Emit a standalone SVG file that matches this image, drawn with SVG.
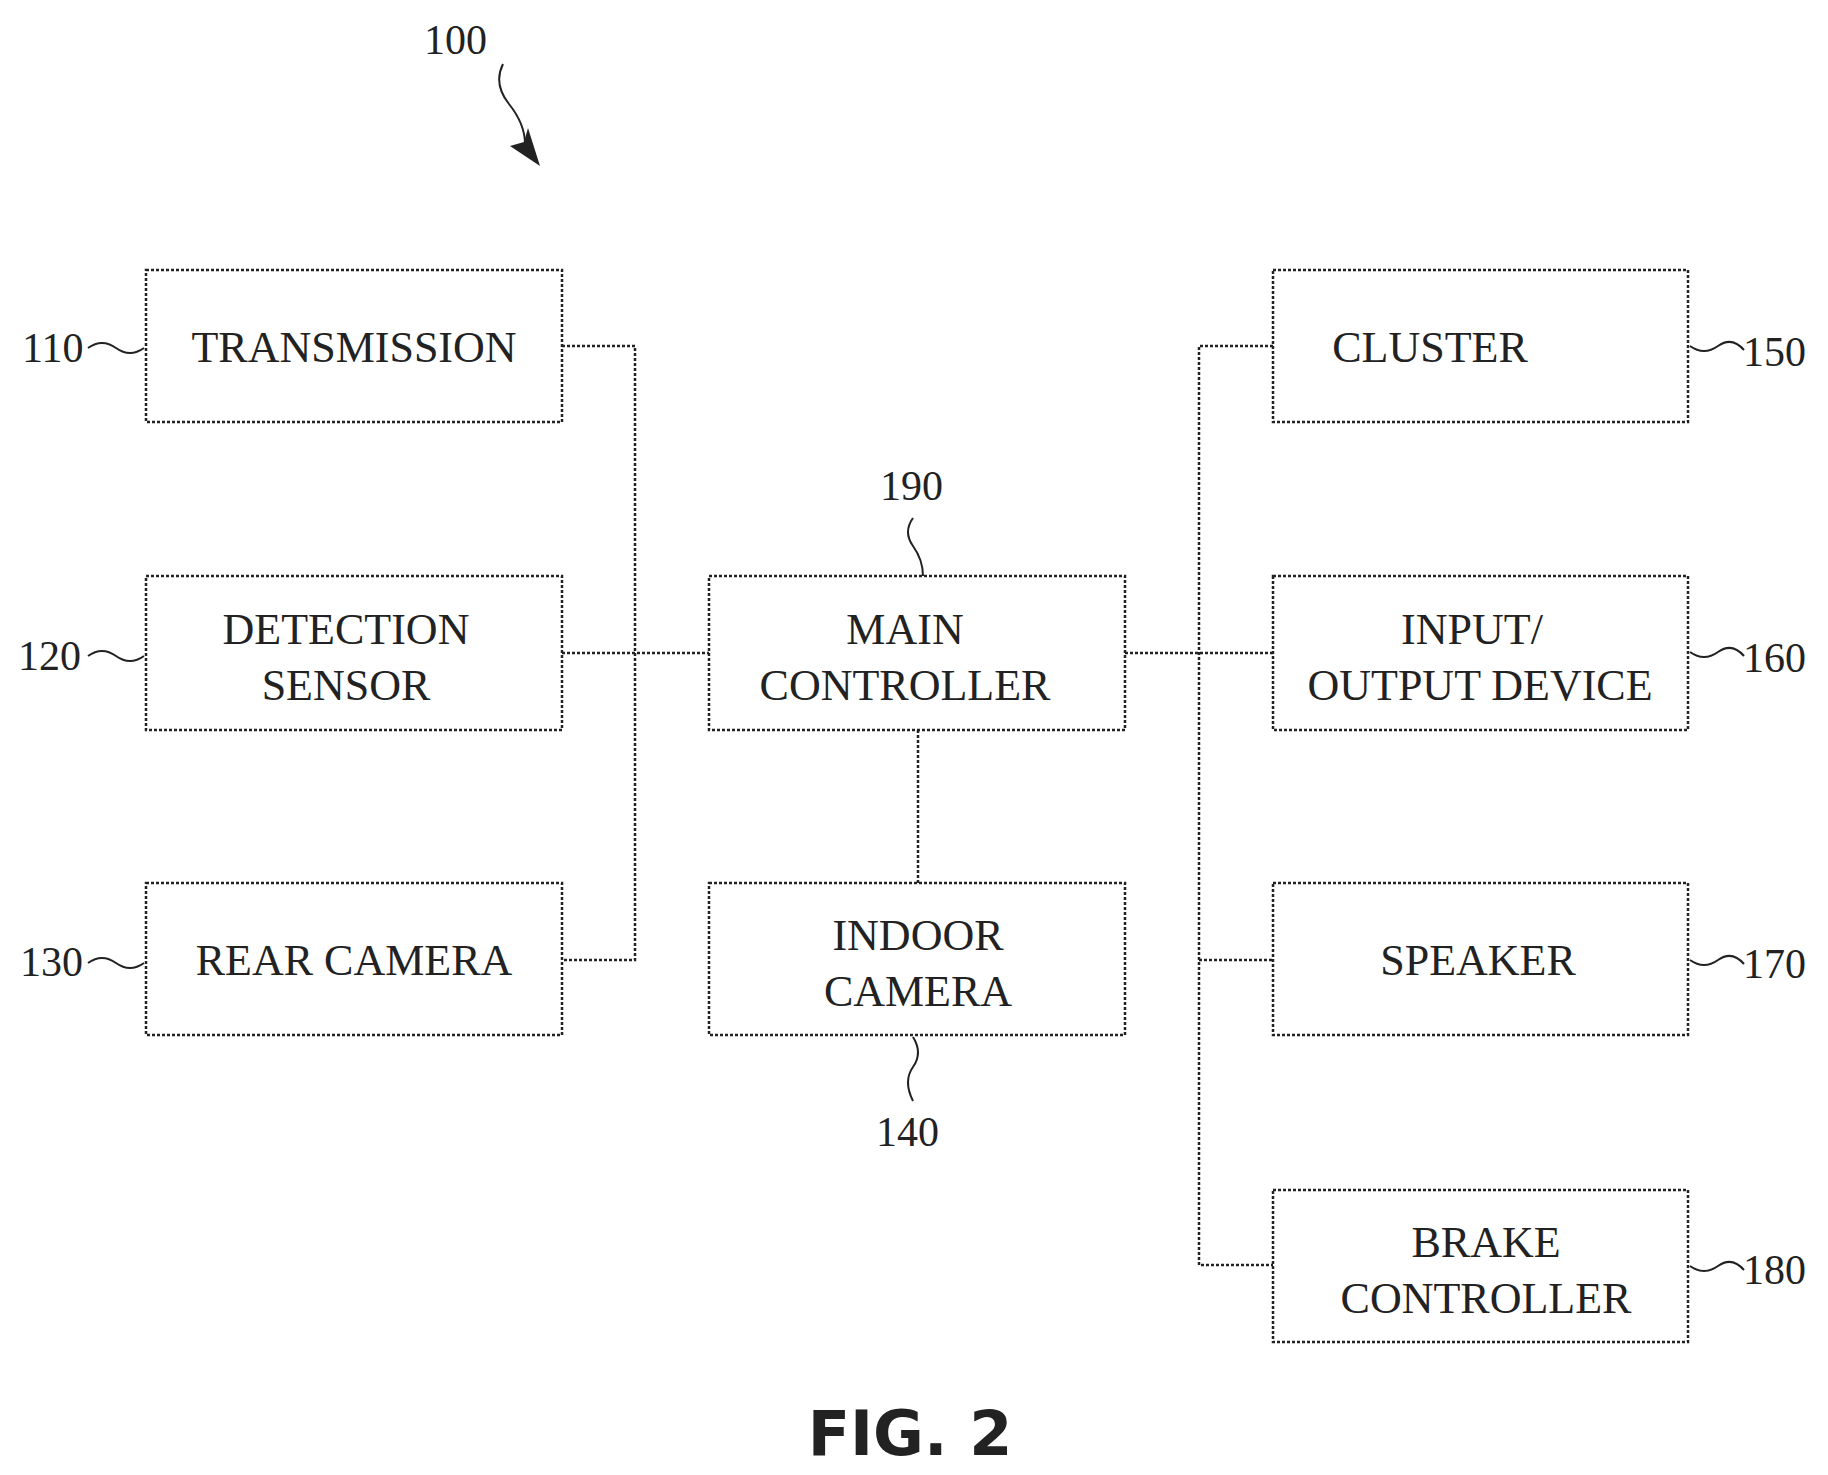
<svg xmlns="http://www.w3.org/2000/svg" width="1828" height="1475" viewBox="0 0 1828 1475">
<style>
.b{fill:none;stroke:#222;stroke-width:2.5;stroke-dasharray:3 2}
.t{font-family:"Liberation Serif",serif;font-size:44px;fill:#222;text-anchor:middle}
.n{font-family:"Liberation Serif",serif;font-size:42px;fill:#222}
.c{fill:none;stroke:#222;stroke-width:2.5;stroke-dasharray:3 2}
.s{fill:none;stroke:#222;stroke-width:2}
</style>
<rect width="1828" height="1475" fill="#fff"/>
<g id="connectors">
<path class="c" d="M562 346H635V960H562M562 653H709M918 730V883M1125 653H1273M1273 346H1199V1265H1273M1199 960H1273"/>
</g>
<g id="n110"><rect class="b" x="146" y="270" width="416" height="152"/><text class="t" x="354" y="362">TRANSMISSION</text></g>
<g id="n120"><rect class="b" x="146" y="576" width="416" height="154"/><text class="t" x="346" y="644">DETECTION</text><text class="t" x="346" y="700">SENSOR</text></g>
<g id="n130"><rect class="b" x="146" y="883" width="416" height="152"/><text class="t" x="354" y="975">REAR  CAMERA</text></g>
<g id="n190"><rect class="b" x="709" y="576" width="416" height="154"/><text class="t" x="905" y="644">MAIN</text><text class="t" x="905" y="700">CONTROLLER</text></g>
<g id="n140"><rect class="b" x="709" y="883" width="416" height="152"/><text class="t" x="918" y="950">INDOOR</text><text class="t" x="918" y="1006">CAMERA</text></g>
<g id="n150"><rect class="b" x="1273" y="270" width="415" height="152"/><text class="t" x="1430" y="362">CLUSTER</text></g>
<g id="n160"><rect class="b" x="1273" y="576" width="415" height="154"/><text class="t" x="1472" y="644">INPUT/</text><text class="t" x="1480" y="700">OUTPUT  DEVICE</text></g>
<g id="n170"><rect class="b" x="1273" y="883" width="415" height="152"/><text class="t" x="1478" y="975">SPEAKER</text></g>
<g id="n180"><rect class="b" x="1273" y="1190" width="415" height="152"/><text class="t" x="1486" y="1257">BRAKE</text><text class="t" x="1486" y="1313">CONTROLLER</text></g>
<g id="labels">
<text class="n" x="22" y="362">110</text><path class="s" d="M88 348q14-10 28 0t28 0"/>
<text class="n" x="18" y="670">120</text><path class="s" d="M88 656q14-10 28 0t28 0"/>
<text class="n" x="20" y="976">130</text><path class="s" d="M88 963q14-10 28 0t28 0"/>
<text class="n" x="1743" y="366">150</text><path class="s" d="M1690 346q14 10 28 0t26 4"/>
<text class="n" x="1743" y="672">160</text><path class="s" d="M1690 652q14 10 28 0t26 4"/>
<text class="n" x="1743" y="978">170</text><path class="s" d="M1690 960q14 10 28 0t26 4"/>
<text class="n" x="1743" y="1284">180</text><path class="s" d="M1690 1266q14 10 28 0t26 4"/>
<text class="n" x="880" y="500">190</text><path class="s" d="M913 518q-10 14 0 28t10 30"/>
<text class="n" x="876" y="1146">140</text><path class="s" d="M913 1037q10 16 0 30t0 34"/>
<text class="n" x="424" y="54">100</text>
<path class="s" d="M503 64q-10 20 6 40t16 40l10 16"/>
<path d="M540 166l-30-20 14-4 4-14z" fill="#222"/>
<text x="910" y="1455" style="font-family:'DejaVu Sans',sans-serif;font-weight:bold;font-size:62px;fill:#222;text-anchor:middle">FIG. 2</text>
</g>
</svg>
